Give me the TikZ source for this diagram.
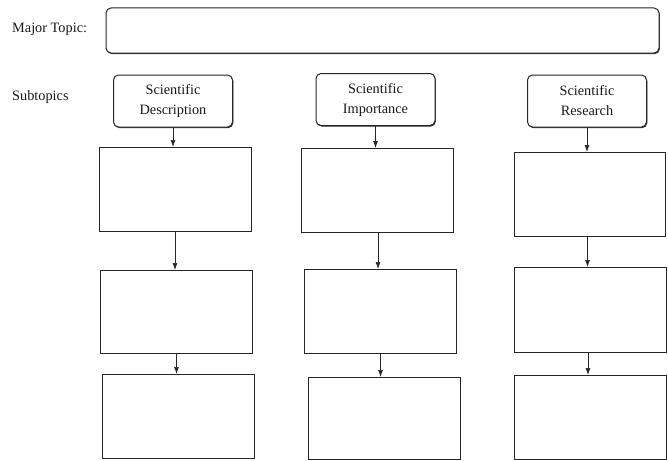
\documentclass[tikz,border=0pt]{standalone}
\usepackage{fontspec}
\setmainfont{Liberation Serif}
\usetikzlibrary{arrows.meta,shadows}
\tikzset{
  lbl/.style={font=\fontsize{14.3}{20}\selectfont, text=black!90, inner sep=0pt},
  shd/.style={general shadow={shadow xshift=0.8pt, shadow yshift=-1.1pt, fill=black!80}},
  topicbox/.style={draw=black!85, line width=1pt, fill=white, rounded corners=5pt, inner sep=0pt, outer sep=0pt, shd},
  subbox/.style={draw=black!85, line width=1pt, fill=white, rounded corners=5pt, inner sep=0pt, outer sep=0pt, align=center, font=\fontsize{14.3}{20}\selectfont, text=black!90, minimum width=119pt, minimum height=52pt, shd},
  cellbox/.style={draw=black!85, line width=1pt, fill=white, inner sep=0pt, outer sep=0pt, minimum width=152pt, minimum height=84pt, shd},
  arr/.style={draw=black!85, line width=0.7pt, -{Latex[length=7pt,width=5pt]}}
}
\begin{document}
\begin{tikzpicture}[x=1pt,y=-1pt]
\useasboundingbox (0,0) rectangle (668,460);
% labels
\node[lbl, anchor=west] (lmajor) at (12,29) {Major Topic:};
\node[lbl, anchor=west] (lsub) at (12,97) {Subtopics};
% major topic box
\node[topicbox, minimum width=553pt, minimum height=45pt] (major) at (382.5,30.5) {};
% subtopic boxes
\node[subbox] (s1) at (173,101) {Scientific\\Description};
\node[subbox] (s2) at (375.5,99.5) {Scientific\\Importance};
\node[subbox] (s3) at (587,101) {Scientific\\Research};
% column 1
\node[cellbox] (b11) at (175,189) {};
\node[cellbox, minimum height=83pt] (b12) at (176.5,311.5) {};
\node[cellbox] (b13) at (178.5,416) {};
% column 2
\node[cellbox] (b21) at (377,190) {};
\node[cellbox] (b22) at (380.5,311) {};
\node[cellbox, minimum height=82pt] (b23) at (384,418) {};
% column 3
\node[cellbox, minimum width=151pt] (b31) at (589.5,194) {};
\node[cellbox, minimum height=85pt] (b32) at (590,309.5) {};
\node[cellbox] (b33) at (590,417) {};
% arrows
\draw[arr] (s1.south) -- (s1.south |- b11.north);
\draw[arr] (b11.south) -- (b11.south |- b12.north);
\draw[arr] (b12.south) -- (b12.south |- b13.north);
\draw[arr] (s2.south) -- (s2.south |- b21.north);
\draw[arr] ([xshift=1pt]b21.south) -- ([xshift=1pt]b21.south |- b22.north);
\draw[arr] (b22.south) -- (b22.south |- b23.north);
\draw[arr] (s3.south) -- (s3.south |- b31.north);
\draw[arr] ([xshift=-2pt]b31.south) -- ([xshift=-2pt]b31.south |- b32.north);
\draw[arr] ([xshift=-2pt]b32.south) -- ([xshift=-2pt]b32.south |- b33.north);
\end{tikzpicture}
\end{document}
